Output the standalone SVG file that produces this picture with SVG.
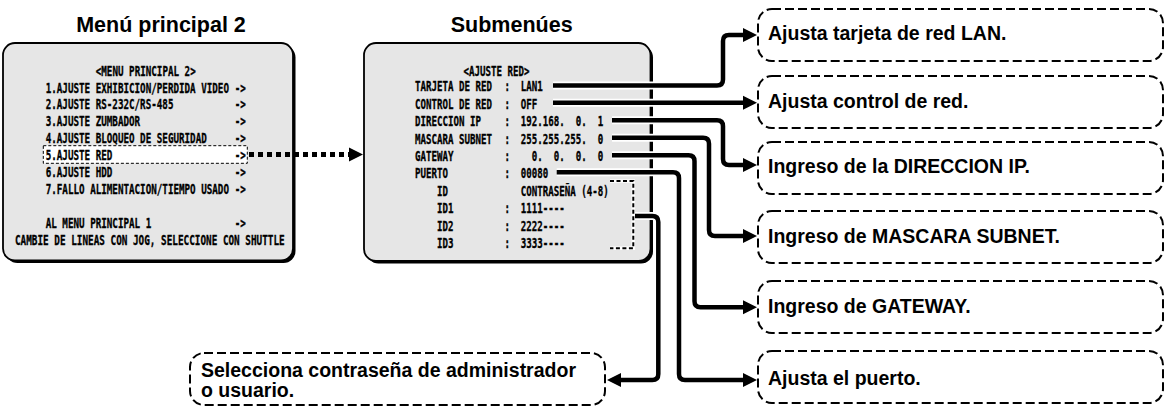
<svg xmlns="http://www.w3.org/2000/svg" width="1167" height="407" viewBox="0 0 1167 407">
<style>
.title{font-family:"Liberation Sans",Arial,sans-serif;font-weight:bold;font-size:21.5px;fill:#000;text-anchor:middle}
.lbl{font-family:"Liberation Sans",Arial,sans-serif;font-weight:bold;font-size:19.5px;fill:#000}
.osd{font-family:"DejaVu Sans Mono","Liberation Mono",monospace;font-weight:bold;font-size:14.5px;fill:#000;stroke:#000;stroke-width:0.35;white-space:pre}
.shadow{fill:#000}
.panel{fill:#e6e6e6;stroke:#000;stroke-width:1.8}
.note{fill:#fff;stroke:#000;stroke-width:2;stroke-dasharray:9 4}
.halo{fill:none;stroke:#fff;stroke-width:8}
.wire{fill:none;stroke:#000;stroke-width:4.5;marker-end:url(#ah)}
</style>
<defs>
<marker id="ah" markerUnits="userSpaceOnUse" markerWidth="14" markerHeight="14" refX="0" refY="7" orient="auto" overflow="visible">
<path d="M0,0 L14,7 L0,14 Z" fill="#000"/>
</marker>
</defs>

<text class="title" x="161" y="32">Menú principal 2</text>
<text class="title" x="511.7" y="32">Submenúes</text>

<g id="menu-principal-2">
<rect class="shadow" x="5.5" y="45.5" width="290" height="217.5" rx="12"/>
<rect class="panel" x="3" y="43" width="290" height="217.5" rx="12"/>
<rect x="43.3" y="145.7" width="204" height="17.6" fill="#fff" stroke="#000" stroke-width="1" stroke-dasharray="3 2"/>
<g transform="translate(45.7 0) scale(0.637 1)">
<text class="osd" x="78.6" y="75.7">&lt;MENU PRINCIPAL 2&gt;</text>
<text class="osd" x="0" y="92.6">1.AJUSTE EXHIBICION/PERDIDA VIDEO</text>
<text class="osd" x="0" y="109.5">2.AJUSTE RS-232C/RS-485</text>
<text class="osd" x="0" y="126.4">3.AJUSTE ZUMBADOR</text>
<text class="osd" x="0" y="143.3">4.AJUSTE BLOQUEO DE SEGURIDAD</text>
<text class="osd" x="0" y="160.2">5.AJUSTE RED</text>
<text class="osd" x="0" y="177.1">6.AJUSTE HDD</text>
<text class="osd" x="0" y="194">7.FALLO ALIMENTACION/TIEMPO USADO</text>
<text class="osd" x="0" y="227.8">AL MENU PRINCIPAL 1</text>
<text class="osd" x="296.8" y="92.6">-&gt;</text>
<text class="osd" x="296.8" y="109.5">-&gt;</text>
<text class="osd" x="296.8" y="126.4">-&gt;</text>
<text class="osd" x="296.8" y="143.3">-&gt;</text>
<text class="osd" x="296.8" y="160.2">-&gt;</text>
<text class="osd" x="296.8" y="177.1">-&gt;</text>
<text class="osd" x="296.8" y="194">-&gt;</text>
<text class="osd" x="296.8" y="227.8">-&gt;</text>
</g>
<g transform="translate(15 0) scale(0.644 1)">
<text class="osd" x="0" y="244.7">CAMBIE DE LINEAS CON JOG, SELECCIONE CON SHUTTLE</text>
</g>
</g>

<g id="submenus">
<rect class="shadow" x="366.5" y="45.5" width="286.5" height="218" rx="12"/>
<rect class="panel" x="364" y="43" width="286.5" height="218" rx="12"/>
<g transform="translate(415 0) scale(0.63 1)">
<text class="osd" x="77" y="76">&lt;AJUSTE RED&gt;</text>
<text class="osd" x="0" y="91.5">TARJETA DE RED</text>
<text class="osd" x="0" y="108.9">CONTROL DE RED</text>
<text class="osd" x="0" y="126.3">DIRECCION IP</text>
<text class="osd" x="0" y="143.7">MASCARA SUBNET</text>
<text class="osd" x="0" y="161.1">GATEWAY</text>
<text class="osd" x="0" y="178.5">PUERTO</text>
<text class="osd" x="34.9" y="195.9">ID</text>
<text class="osd" x="34.9" y="213.3">ID1</text>
<text class="osd" x="34.9" y="230.7">ID2</text>
<text class="osd" x="34.9" y="248.1">ID3</text>
<text class="osd" x="142" y="91.5">:</text>
<text class="osd" x="142" y="108.9">:</text>
<text class="osd" x="142" y="126.3">:</text>
<text class="osd" x="142" y="143.7">:</text>
<text class="osd" x="142" y="161.1">:</text>
<text class="osd" x="142" y="178.5">:</text>
<text class="osd" x="142" y="213.3">:</text>
<text class="osd" x="142" y="230.7">:</text>
<text class="osd" x="142" y="248.1">:</text>
<text class="osd" x="168" y="91.5">LAN1</text>
<text class="osd" x="168" y="108.9">OFF</text>
<text class="osd" x="168" y="126.3" xml:space="preserve">192.168.  0.  1</text>
<text class="osd" x="168" y="143.7" xml:space="preserve">255.255.255.  0</text>
<text class="osd" x="168" y="161.1" xml:space="preserve">  0.  0.  0.  0</text>
<text class="osd" x="168" y="178.5">00080</text>
<text class="osd" x="168" y="195.9">CONTRASEÑA (4-8)</text>
<text class="osd" x="168" y="213.3">1111----</text>
<text class="osd" x="168" y="230.7">2222----</text>
<text class="osd" x="168" y="248.1">3333----</text>
</g>
<path d="M610,181 H633.3 V248.3 H610" fill="none" stroke="#fff" stroke-width="3.5"/>
<path d="M610,181 H633.3 V248.3 H610" fill="none" stroke="#000" stroke-width="2" stroke-dasharray="4 2.5"/>
</g>

<g id="connectors">
<path d="M249,154.5 H349" fill="none" stroke="#000" stroke-width="5" stroke-dasharray="5 4" marker-end="url(#ah)"/>
<path class="halo" d="M553,85.5 H717 Q723,85.5 723,79.5 V41 Q723,35 729,35 H743"/>
<path class="halo" d="M553,102.8 H743"/>
<path class="halo" d="M612,120.2 H717 Q723,120.2 723,126.2 V159 Q723,165 729,165 H743"/>
<path class="halo" d="M612,137.8 H703 Q709,137.8 709,143.8 V230 Q709,236 715,236 H743"/>
<path class="halo" d="M612,155.3 H688.5 Q694.5,155.3 694.5,161.3 V301.3 Q694.5,307.3 700.5,307.3 H743"/>
<path class="halo" d="M556.7,172.3 H673 Q679,172.3 679,178.3 V374 Q679,380 685,380 H743"/>
<path class="halo" d="M635,216 H652.3 Q658.3,216 658.3,222 V374 Q658.3,380 652.3,380 H621"/>
<path class="wire" d="M553,85.5 H717 Q723,85.5 723,79.5 V41 Q723,35 729,35 H743"/>
<path class="wire" d="M553,102.8 H743"/>
<path class="wire" d="M612,120.2 H717 Q723,120.2 723,126.2 V159 Q723,165 729,165 H743"/>
<path class="wire" d="M612,137.8 H703 Q709,137.8 709,143.8 V230 Q709,236 715,236 H743"/>
<path class="wire" d="M612,155.3 H688.5 Q694.5,155.3 694.5,161.3 V301.3 Q694.5,307.3 700.5,307.3 H743"/>
<path class="wire" d="M556.7,172.3 H673 Q679,172.3 679,178.3 V374 Q679,380 685,380 H743"/>
<path class="wire" d="M635,216 H652.3 Q658.3,216 658.3,222 V374 Q658.3,380 652.3,380 H621"/>
</g>

<g id="note-lan">
<rect class="note" x="758" y="9" width="405" height="52" rx="14"/>
<text class="lbl" x="768" y="40.2">Ajusta tarjeta de red LAN.</text>
</g>
<g id="note-control">
<rect class="note" x="758" y="76" width="405" height="52" rx="14"/>
<text class="lbl" x="768" y="108.4">Ajusta control de red.</text>
</g>
<g id="note-ip">
<rect class="note" x="758" y="142" width="405" height="52" rx="14"/>
<text class="lbl" x="768" y="172.5">Ingreso de la DIRECCION IP.</text>
</g>
<g id="note-mascara">
<rect class="note" x="758" y="211" width="405" height="52" rx="14"/>
<text class="lbl" x="768" y="243.4">Ingreso de MASCARA SUBNET.</text>
</g>
<g id="note-gateway">
<rect class="note" x="758" y="281" width="405" height="52" rx="14"/>
<text class="lbl" x="768" y="313.4">Ingreso de GATEWAY.</text>
</g>
<g id="note-puerto">
<rect class="note" x="758" y="351" width="405" height="52" rx="14"/>
<text class="lbl" x="768" y="385">Ajusta el puerto.</text>
</g>
<g id="note-password">
<rect class="note" x="190" y="353" width="415" height="52" rx="14"/>
<text class="lbl" x="201" y="377">Selecciona contraseña de administrador</text>
<text class="lbl" x="201" y="397">o usuario.</text>
</g>
</svg>
